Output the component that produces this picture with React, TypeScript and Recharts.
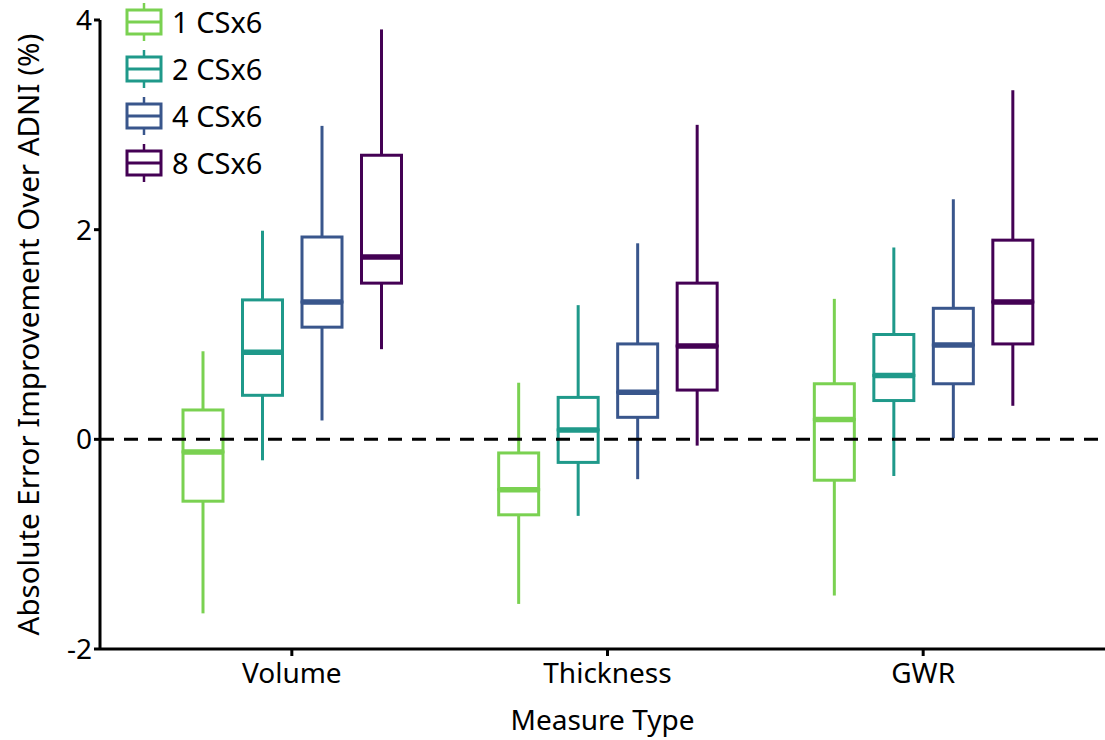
import React from 'react';
import { ComposedChart, Bar, XAxis, YAxis, ReferenceLine, Legend } from 'recharts';

const categories = ['Volume', 'Thickness', 'GWR'];
const seriesNames = ['1 CSx6', '2 CSx6', '4 CSx6', '8 CSx6'];
const seriesColors = ['#7AD151', '#1F998A', '#39568C', '#440154'];
const yTicks = [-2, 0, 2, 4];

// box stats per category: [min, q1, median, q3, max]
const cs1 = [
    [-1.66, -0.59, -0.12, 0.28, 0.84],
    [-1.57, -0.72, -0.48, -0.13, 0.54],
    [-1.49, -0.39, 0.19, 0.53, 1.34],
];
const cs2 = [
    [-0.2, 0.42, 0.83, 1.33, 1.99],
    [-0.73, -0.22, 0.09, 0.4, 1.28],
    [-0.35, 0.37, 0.61, 1.0, 1.83],
];
const cs4 = [
    [0.18, 1.07, 1.31, 1.93, 2.99],
    [-0.38, 0.21, 0.45, 0.91, 1.87],
    [0.01, 0.53, 0.9, 1.25, 2.29],
];
const cs8 = [
    [0.86, 1.49, 1.74, 2.71, 3.91],
    [-0.06, 0.47, 0.89, 1.49, 3.0],
    [0.32, 0.91, 1.31, 1.9, 3.33],
];

const seriesStats = [cs1, cs2, cs4, cs8];

// stacked segments: base (0->min), lo (min->q1), b1 (q1->med), b2 (med->q3), hi (q3->max)
const data = categories.map((name, c) => {
    const row: any = { name };
    seriesStats.forEach((stats, s) => {
        const [mn, q1, med, q3, mx] = stats[c];
        row[`s${s}_base`] = mn;
        row[`s${s}_lo`] = q1 - mn;
        row[`s${s}_b1`] = med - q1;
        row[`s${s}_b2`] = q3 - med;
        row[`s${s}_hi`] = mx - q3;
    });
    return row;
});

const FONT = '"Noto Sans", Lato, sans-serif';

const Empty = () => <g />;

const whisker = (color: string) => (props: any) => {
    const { x, y, width, height } = props;
    const cx = x + width / 2;
    return <line x1={cx} x2={cx} y1={y} y2={y + height} stroke={color} strokeWidth={3} />;
};

const lowerBox = (color: string) => (props: any) => {
    const { x, y, width, height } = props;
    return <rect x={x} y={y} width={width} height={height} fill="none" stroke={color} strokeWidth={3} />;
};

const upperBox = (color: string) => (props: any) => {
    const { x, y, width, height } = props;
    return (
        <g>
            <rect x={x} y={y} width={width} height={height} fill="none" stroke={color} strokeWidth={3} />
            <line x1={x} x2={x + width} y1={y + height} y2={y + height} stroke={color} strokeWidth={5.5} />
        </g>
    );
};

const LegendGlyph = ({ color }: { color: string }) => (
    <svg width={40} height={42} style={{ display: 'block' }}>
        <line x1={20} x2={20} y1={2} y2={9} stroke={color} strokeWidth={2.5} />
        <rect x={3} y={9} width={34} height={24} fill="none" stroke={color} strokeWidth={3} />
        <line x1={3} x2={37} y1={21} y2={21} stroke={color} strokeWidth={3} />
        <line x1={20} x2={20} y1={33} y2={40} stroke={color} strokeWidth={2.5} />
    </svg>
);

const BoxLegend = () => (
    <div style={{ fontFamily: FONT }}>
        {seriesNames.map((n, i) => (
            <div key={n} style={{ display: 'flex', alignItems: 'center', height: 47 }}>
                <LegendGlyph color={seriesColors[i]} />
                <span style={{ fontSize: 29, color: '#000', marginLeft: 8 }}>{n}</span>
            </div>
        ))}
    </div>
);

export default function App() {
    return (
        <div style={{ position: 'absolute', left: 0, top: 0, width: 1105, height: 740, background: '#fff', fontFamily: FONT }}>
            <ComposedChart
                width={1105}
                height={740}
                data={data}
                margin={{ top: 20, right: 0, bottom: 0, left: 0 }}
                barSize={40}
                barGap={19.5}
            >
                <XAxis
                    dataKey="name"
                    type="category"
                    height={91}
                    padding={{ left: 34, right: 24 }}
                    axisLine={{ stroke: '#000', strokeWidth: 3 }}
                    tickLine={{ stroke: '#000', strokeWidth: 3 }}
                    tickSize={7}
                    tick={{ fill: '#000', fontSize: 28, fontFamily: FONT, dy: 5 }}
                    label={{ value: 'Measure Type', position: 'insideBottom', offset: 10, fill: '#000', fontSize: 28, fontFamily: FONT }}
                />
                <YAxis
                    type="number"
                    domain={[-2, 4]}
                    ticks={yTicks}
                    width={100}
                    allowDataOverflow
                    axisLine={{ stroke: '#000', strokeWidth: 3 }}
                    tickLine={{ stroke: '#000', strokeWidth: 3 }}
                    tickSize={6}
                    tick={{ fill: '#000', fontSize: 28, fontFamily: FONT }}
                    label={{
                        value: 'Absolute Error Improvement Over ADNI (%)',
                        angle: -90,
                        position: 'insideLeft',
                        offset: 29,
                        style: { textAnchor: 'middle' },
                        fill: '#000',
                        fontSize: 29.5,
                        fontFamily: FONT,
                    }}
                />
                <Legend
                    layout="vertical"
                    align="center"
                    verticalAlign="middle"
                    wrapperStyle={{ left: 124, top: -2, width: 'auto' }}
                    content={() => <BoxLegend />}
                />
                {seriesNames.map((n, s) => [
                    <Bar key={`${n}-base`} dataKey={`s${s}_base`} stackId={`s${s}`} shape={Empty} isAnimationActive={false} legendType="none" />,
                    <Bar key={`${n}-lo`} dataKey={`s${s}_lo`} stackId={`s${s}`} shape={whisker(seriesColors[s])} isAnimationActive={false} legendType="none" />,
                    <Bar key={`${n}-b1`} dataKey={`s${s}_b1`} stackId={`s${s}`} shape={lowerBox(seriesColors[s])} isAnimationActive={false} legendType="none" />,
                    <Bar key={`${n}-b2`} dataKey={`s${s}_b2`} stackId={`s${s}`} shape={upperBox(seriesColors[s])} isAnimationActive={false} legendType="none" />,
                    <Bar key={`${n}-hi`} dataKey={`s${s}_hi`} stackId={`s${s}`} shape={whisker(seriesColors[s])} isAnimationActive={false} legendType="none" />,
                ])}
                <ReferenceLine y={0} stroke="#000" strokeWidth={3} strokeDasharray="14 10" />
            </ComposedChart>
        </div>
    );
}
